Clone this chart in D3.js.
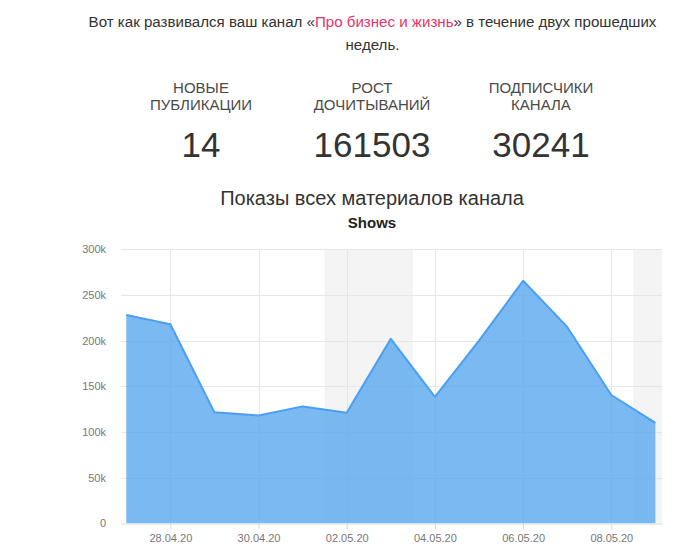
<!DOCTYPE html>
<html>
<head>
<meta charset="utf-8">
<script src="https://cdn.jsdelivr.net/npm/d3@7"></script>
<style>
  html, body { margin: 0; padding: 0; background: #fff; }
  svg { display: block; font-family: "Liberation Sans", Arial, sans-serif; }
</style>
</head>
<body>
<svg id="chart" width="685" height="560"></svg>
<script>
// ---- data ----
const introBefore = "Вот как развивался ваш канал «";
const introLink = "Про бизнес и жизнь";
const introAfter = "» в течение двух прошедших";
const introLine2 = "недель.";

const statLabels = [["НОВЫЕ", "ПУБЛИКАЦИИ"], ["РОСТ", "ДОЧИТЫВАНИЙ"], ["ПОДПИСЧИКИ", "КАНАЛА"]];
const statValues = ["14", "161503", "30241"];

const chartTitle = "Показы всех материалов канала";
const seriesName = "Shows";

const dates = ["2020-04-27", "2020-04-28", "2020-04-29", "2020-04-30", "2020-05-01", "2020-05-02",
  "2020-05-03", "2020-05-04", "2020-05-05", "2020-05-06", "2020-05-07", "2020-05-08", "2020-05-09"];
const shows = [228000, 218000, 121500, 118000, 128000, 121000, 202000, 138500, 200000, 265500, 215000, 140500, 110000];

const yTicks = [0, 50000, 100000, 150000, 200000, 250000, 300000];
const yTickLabels = ["0", "50k", "100k", "150k", "200k", "250k", "300k"];
const xTicks = ["2020-04-28", "2020-04-30", "2020-05-02", "2020-05-04", "2020-05-06", "2020-05-08"];
const xTickLabels = ["28.04.20", "30.04.20", "02.05.20", "04.05.20", "06.05.20", "08.05.20"];
const weekendBands = [["2020-05-02", "2020-05-03"], ["2020-05-09", "2020-05-10"]];

// ---- drawing ----
(function () {
const svg = d3.select("#chart");
const H = 3600 * 1000;
const parse = s => new Date(s + "T00:00:00Z");

// intro text
const intro = svg.append("text").attr("x", 372.5).attr("y", 27).attr("text-anchor", "middle")
  .attr("font-size", 15.1).attr("fill", "#333");
intro.append("tspan").text(introBefore);
intro.append("tspan").attr("fill", "#e8336b").text(introLink);
intro.append("tspan").text(introAfter);
svg.append("text").attr("x", 372.5).attr("y", 50).attr("text-anchor", "middle")
  .attr("font-size", 15.1).attr("fill", "#333").text(introLine2);

// stats
const statX = [201, 372, 541];
statLabels.forEach((lines, i) => {
  lines.forEach((l, j) => {
    svg.append("text").attr("x", statX[i]).attr("y", 93 + j * 17).attr("text-anchor", "middle")
      .attr("font-size", 15).attr("fill", "#4a4a4a").text(l);
  });
  svg.append("text").attr("x", statX[i]).attr("y", 157).attr("text-anchor", "middle")
    .attr("font-size", 35).attr("fill", "#333").text(statValues[i]);
});

// titles
svg.append("text").attr("x", 372).attr("y", 205).attr("text-anchor", "middle")
  .attr("font-size", 20).attr("fill", "#333").text(chartTitle);
svg.append("text").attr("x", 372).attr("y", 228).attr("text-anchor", "middle")
  .attr("font-size", 15).attr("font-weight", "bold").attr("fill", "#222").text(seriesName);

// scales
const pL = 121, pR = 662, pT = 249.3, pB = 523.3;
const x = d3.scaleUtc()
  .domain([new Date(parse(dates[0]).getTime() - 2.85 * H), new Date(parse(dates[dates.length - 1]).getTime() + 3.6 * H)])
  .range([pL, pR]);
const y = d3.scaleLinear().domain([0, 300000]).range([pB, pT]);

svg.append("defs").append("clipPath").attr("id", "plotclip")
  .append("rect").attr("x", pL).attr("y", pT).attr("width", pR - pL).attr("height", pB - pT);

// weekend bands
svg.append("g").attr("clip-path", "url(#plotclip)").selectAll("rect").data(weekendBands).join("rect")
  .attr("x", d => x(new Date(parse(d[0]).getTime() - 12 * H)))
  .attr("width", d => x(new Date(parse(d[1]).getTime() + 12 * H)) - x(new Date(parse(d[0]).getTime() - 12 * H)))
  .attr("y", pT).attr("height", pB - pT).attr("fill", "#f3f4f3");

// horizontal grid
svg.append("g").selectAll("line").data(yTicks.slice(1)).join("line")
  .attr("x1", pL).attr("x2", pR)
  .attr("y1", d => Math.round(y(d)) + 0.5).attr("y2", d => Math.round(y(d)) + 0.5)
  .attr("stroke", "#e6e6e6").attr("stroke-width", 1);

// vertical grid
svg.append("g").selectAll("line").data(xTicks).join("line")
  .attr("x1", d => Math.round(x(parse(d))) + 0.5).attr("x2", d => Math.round(x(parse(d))) + 0.5)
  .attr("y1", pT).attr("y2", pB)
  .attr("stroke", "#e6e6e6").attr("stroke-width", 1);

// area + line
const pts = dates.map((d, i) => [parse(d), shows[i]]);
const area = d3.area().x(d => x(d[0])).y0(y(0)).y1(d => y(d[1]));
const line = d3.line().x(d => x(d[0])).y(d => y(d[1]));
svg.append("path").datum(pts).attr("d", area).attr("fill", "#5aa7f0").attr("fill-opacity", 0.8);
svg.append("path").datum(pts).attr("d", line).attr("fill", "none")
  .attr("stroke", "#4a9ff0").attr("stroke-width", 2).attr("stroke-linejoin", "round");

// x axis
const xAxis = d3.axisBottom(x).tickValues(xTicks.map(parse))
  .tickFormat((d, i) => xTickLabels[i]).tickSize(6).tickSizeOuter(0);
const gx = svg.append("g").attr("transform", `translate(0,${Math.round(pB) + 0.5})`).call(xAxis);
gx.select(".domain").attr("stroke", "#d8d8d8");
gx.selectAll(".tick line").attr("stroke", "#d8d8d8");
gx.selectAll(".tick text").attr("font-family", "Liberation Sans, Arial, sans-serif")
  .attr("font-size", 11).attr("fill", "#777").attr("dy", "0.9em");

// y axis labels
const yAxis = d3.axisLeft(y).tickValues(yTicks).tickFormat((d, i) => yTickLabels[i]).tickSize(0);
const gy = svg.append("g").attr("transform", `translate(${pL - 15},0)`).call(yAxis);
gy.select(".domain").remove();
gy.selectAll(".tick text").attr("font-family", "Liberation Sans, Arial, sans-serif")
  .attr("font-size", 11).attr("fill", "#777").attr("x", 0);
})();
</script>
</body>
</html>
